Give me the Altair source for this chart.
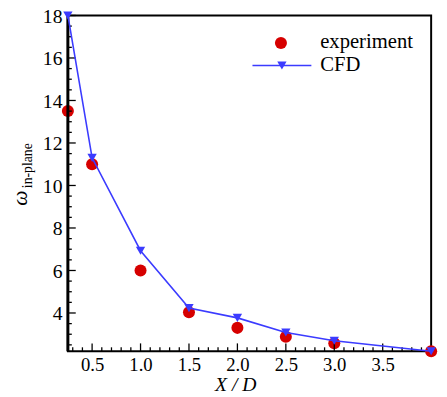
import altair as alt
import pandas as pd

# data
x_pos = [0.25, 0.5, 1.0, 1.5, 2.0, 2.5, 3.0, 4.0]
experiment = [13.5, 11.0, 6.0, 4.03, 3.3, 2.88, 2.58, 2.2]
cfd = [18.0, 11.3, 6.93, 4.23, 3.77, 3.08, 2.69, 2.2]
x_ticks = [0.5, 1.0, 1.5, 2.0, 2.5, 3.0, 3.5]
x_minor = [round(0.3 + 0.1 * i, 2) for i in range(37)]
x_minor = [v for v in x_minor if v not in x_ticks and v < 4.0]
y_ticks = [4, 6, 8, 10, 12, 14, 16, 18]
y_minor = [2.5, 3, 3.5, 4.5, 5, 5.5, 6.5, 7, 7.5, 8.5, 9, 9.5, 10.5, 11, 11.5,
           12.5, 13, 13.5, 14.5, 15, 15.5, 16.5, 17, 17.5]

W, H = 370, 342
XD = [0.25, 4.0]
YD = [2.2, 18.0]
RED = "#d60000"
BLUE = "#3b3bff"
SERIF = "Liberation Serif"

xs = alt.Scale(domain=XD, nice=False, zero=False)
ys = alt.Scale(domain=YD, nice=False, zero=False)
xax = alt.Axis(values=x_ticks, format=".1f", ticks=False, domain=False, grid=False,
               labelFont=SERIF, labelFontSize=19, labelColor="black",
               labelPadding=5, title=None)
yax = alt.Axis(values=y_ticks, ticks=False, domain=False, grid=False,
               labelFont=SERIF, labelFontSize=20, labelColor="black",
               labelPadding=6, labelOffset=1, title=None)
X = alt.X("x:Q", scale=xs, axis=xax)
Y = alt.Y("y:Q", scale=ys, axis=yax)

df_exp = pd.DataFrame({"x": x_pos, "y": experiment})
df_cfd = pd.DataFrame({"x": x_pos, "y": cfd})
one = pd.DataFrame({"a": [0]})

exp_pts = alt.Chart(df_exp).mark_circle(size=150, color=RED, opacity=1, clip=False).encode(x=X, y=Y)
cfd_line = alt.Chart(df_cfd).mark_line(color=BLUE, strokeWidth=1.6, clip=False).encode(x=X, y=Y)
cfd_pts = alt.Chart(df_cfd).mark_point(shape="triangle-down", size=90, filled=True,
                                       color=BLUE, opacity=1, clip=False).encode(x=X, y=Y)

def xtick(vals, ln):
    return alt.Chart(pd.DataFrame({"x": vals})).mark_rule(color="black", strokeWidth=1.3).encode(
        x=X, y=alt.value(H), y2=alt.value(H - ln))

def ytick(vals, ln):
    return alt.Chart(pd.DataFrame({"y": vals})).mark_rule(color="black", strokeWidth=1.3).encode(
        y=Y, x=alt.value(0), x2=alt.value(ln))

left_axis = alt.Chart(one).mark_rule(color="black", strokeWidth=3).encode(
    x=alt.value(0), y=alt.value(0), y2=alt.value(H))

# legend
leg_dot = alt.Chart(one).mark_circle(size=150, color=RED, opacity=1).encode(
    x=alt.value(217), y=alt.value(28))
leg_exp = alt.Chart(one).mark_text(text="experiment", font=SERIF, fontSize=21, align="left",
                                   baseline="middle", color="black").encode(
    x=alt.value(257), y=alt.value(27))
leg_line = alt.Chart(one).mark_rule(color=BLUE, strokeWidth=1.6).encode(
    x=alt.value(188), x2=alt.value(248), y=alt.value(51))
leg_tri = alt.Chart(one).mark_point(shape="triangle-down", size=90, filled=True, color=BLUE,
                                    opacity=1).encode(x=alt.value(218), y=alt.value(51))
leg_cfd = alt.Chart(one).mark_text(text="CFD", font=SERIF, fontSize=21, align="left",
                                   baseline="middle", color="black").encode(
    x=alt.value(257), y=alt.value(51))

# axis titles
xtitle = alt.Chart(one).mark_text(text="X / D", font=SERIF, fontSize=20, fontStyle="italic",
                                  align="center", baseline="middle", color="black").encode(
    x=alt.value(171), y=alt.value(377))
omega = alt.Chart(one).mark_text(text="ω", font=SERIF, fontSize=22, fontStyle="italic",
                                 angle=270, align="center", baseline="middle", color="black").encode(
    x=alt.value(-49), y=alt.value(186))
sub = alt.Chart(one).mark_text(text="in-plane", font=SERIF, fontSize=14, angle=270,
                               align="center", baseline="middle", color="black").encode(
    x=alt.value(-41), y=alt.value(153))

chart = alt.layer(
    exp_pts, xtick(x_minor, 4), xtick(x_ticks, 8), ytick(y_minor, 4), ytick(y_ticks, 8),
    left_axis, cfd_line, cfd_pts,
    leg_dot, leg_exp, leg_line, leg_tri, leg_cfd, xtitle, omega, sub,
).properties(
    width=W, height=H,
    autosize=alt.AutoSizeParams(type="none"),
    padding={"left": 61, "top": 4, "right": 8, "bottom": 43},
).configure_view(stroke="black", strokeWidth=2)

chart.save("out.html", embed_options={"renderer": "svg", "actions": False})
